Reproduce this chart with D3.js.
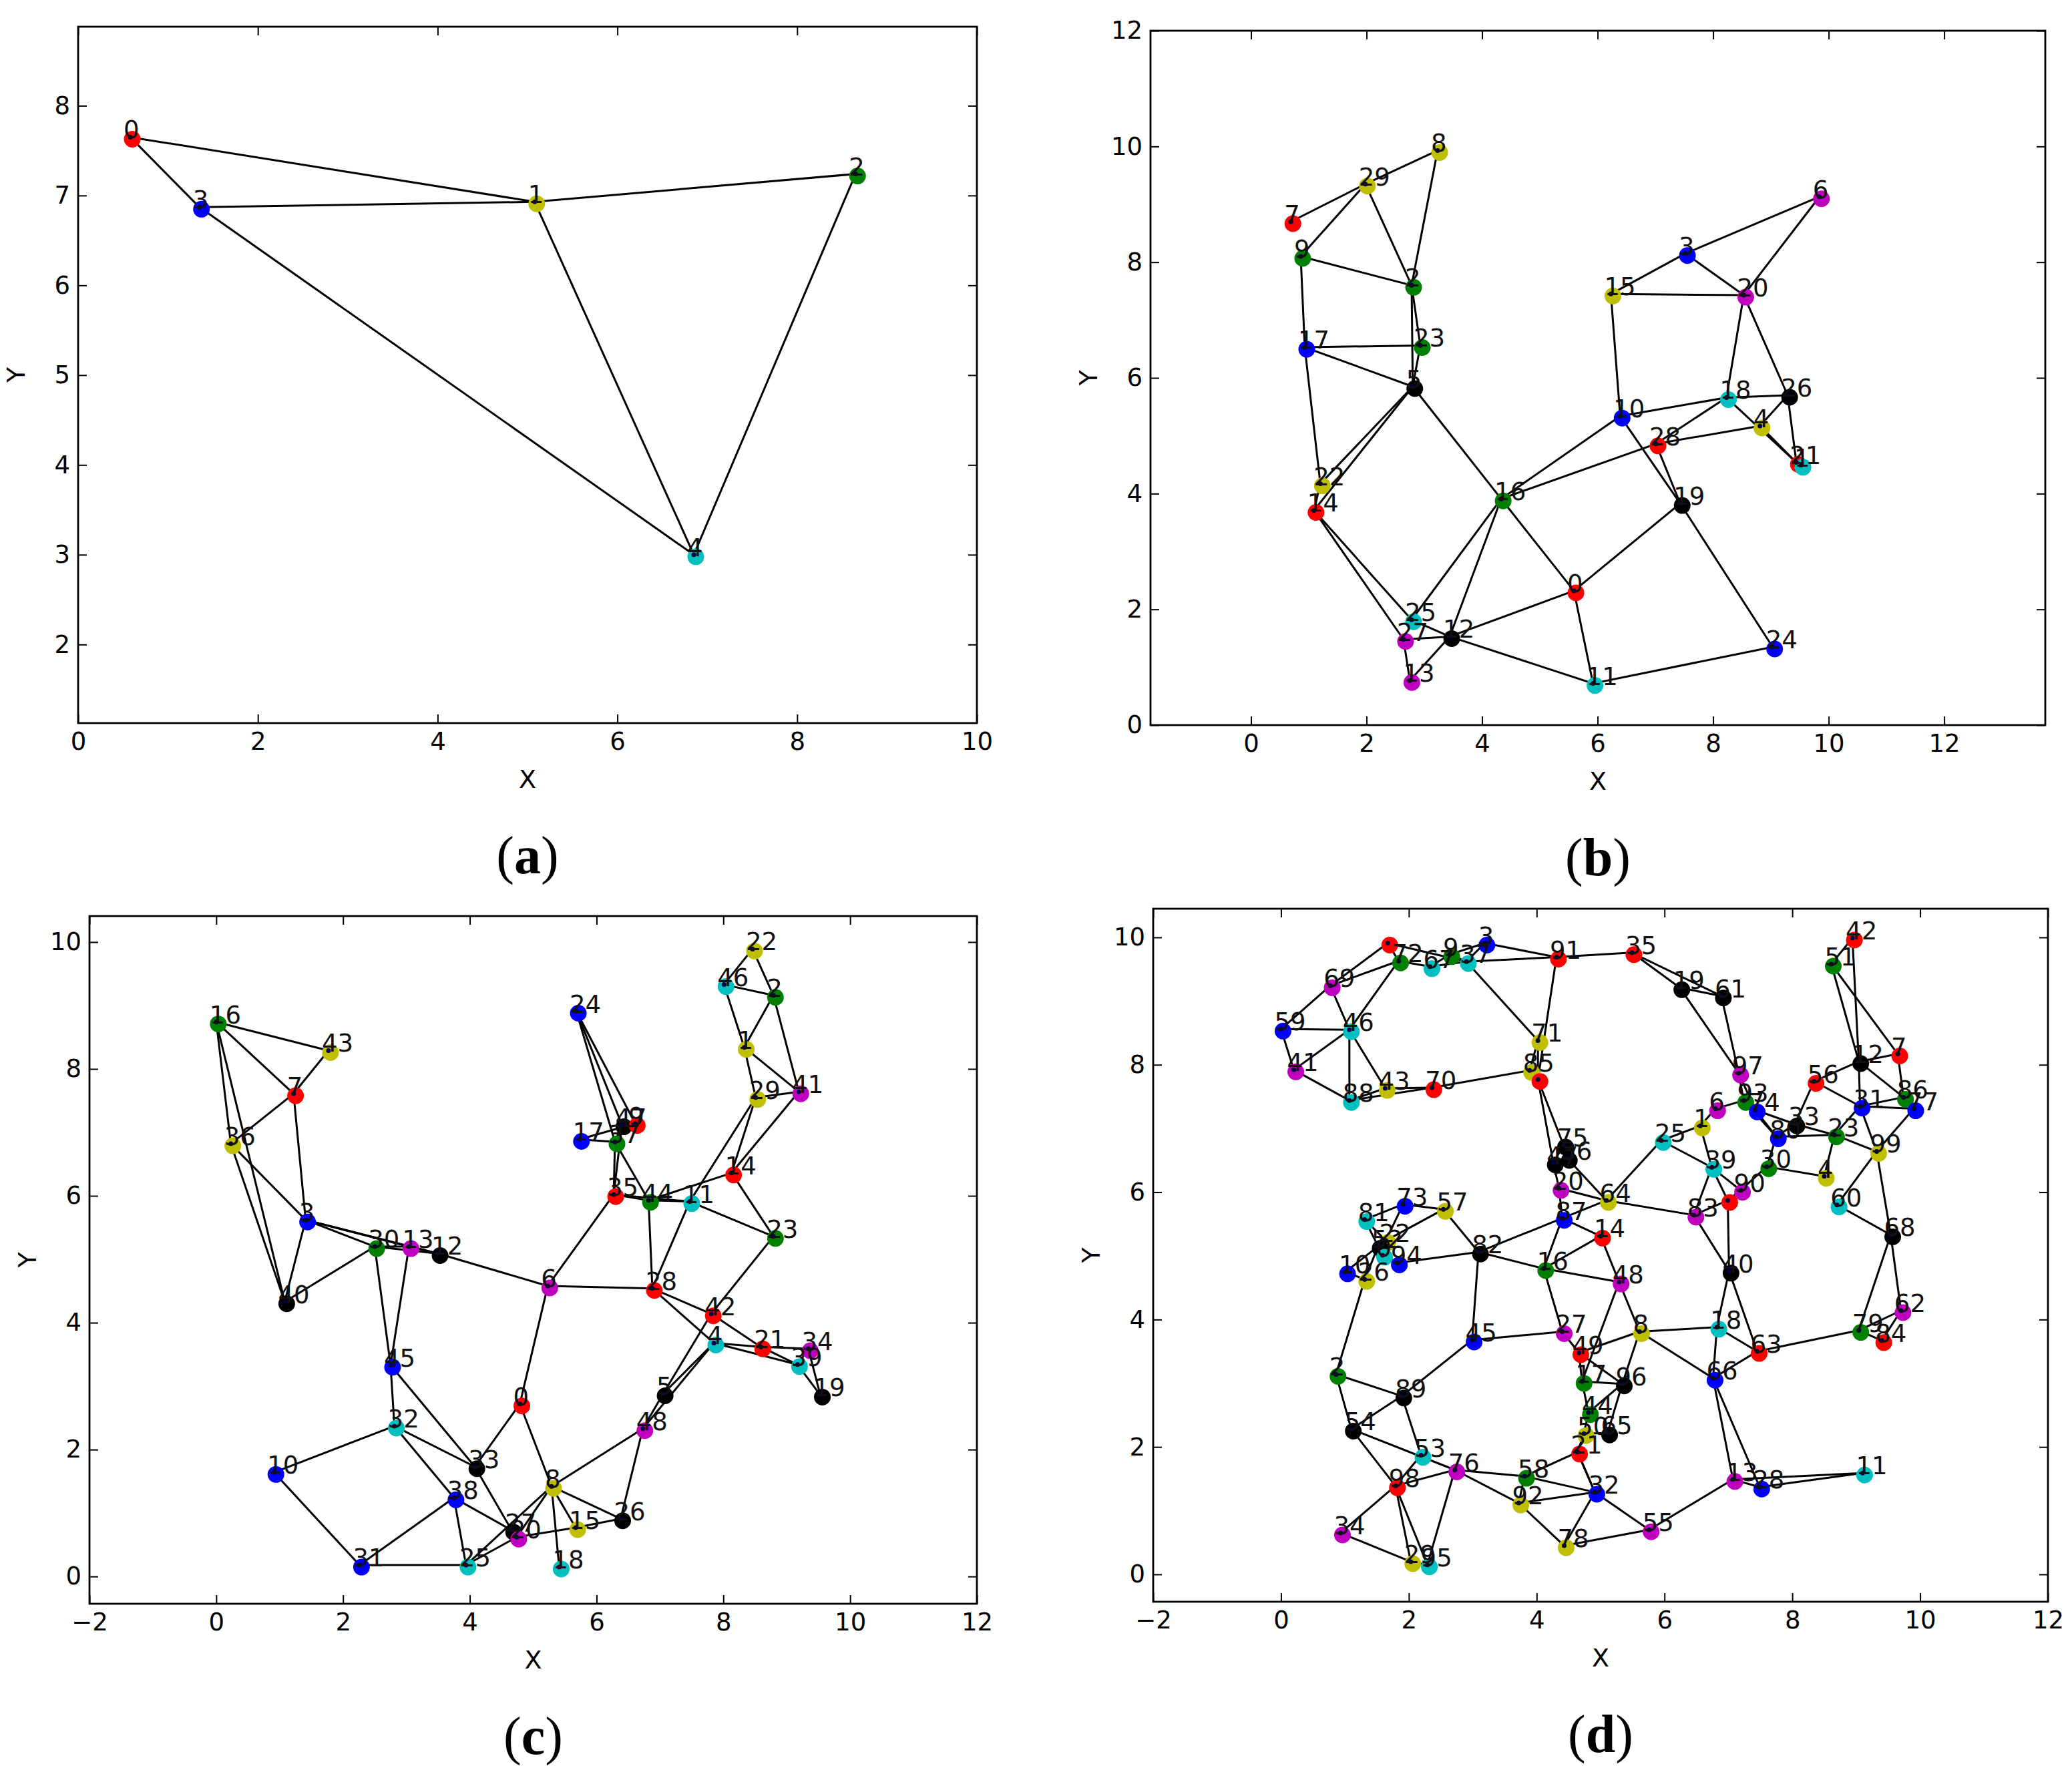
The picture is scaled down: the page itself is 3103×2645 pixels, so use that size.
<!DOCTYPE html>
<html>
<head>
<meta charset="utf-8">
<script src="https://cdn.jsdelivr.net/npm/d3@7"></script>
<style>
body { margin: 0; background: #fff; }
</style>
</head>
<body>
<svg id="fig" width="3103" height="2645"></svg>
<script>
// matplotlib classic colours
let pal = { b: "#0000ff", g: "#008000", r: "#ff0000", c: "#00bfbf", m: "#bf00bf", y: "#bfbf00", k: "#000000" }

// ---- panel (a)
let aKeys = ["0", "1", "2", "3", "4"]
let aX = [0.58, 5.08, 8.65, 1.35, 6.85]
let aY = [7.65, 6.93, 7.24, 6.87, 3.0]
let aCol = ["r", "y", "g", "b", "c"]
let aEdges = [["0","1"],["0","3"],["3","1"],["1","2"],["3","4"],["1","4"],["2","4"]]

// ---- panel (b)
let bKeys = ["7","29","8","9","2","17","23","5","22","14","16","25","27","12","13","0","11","24","19","10","28","18","26","4","21","1","15","20","3","6"]
let bX = [0.69,1.98,3.23,0.86,2.78,0.93,2.93,2.80,1.20,1.09,4.33,2.78,2.64,3.44,2.75,5.59,5.92,9.03,7.43,6.39,7.01,8.23,9.29,8.81,9.44,9.52,6.23,8.53,7.52,9.84]
let bY = [8.70,9.35,9.93,8.10,7.60,6.53,6.56,5.85,4.17,3.71,3.91,1.82,1.48,1.53,0.77,2.32,0.72,1.35,3.83,5.34,4.86,5.66,5.70,5.17,4.54,4.49,7.45,7.43,8.15,9.13]
let bCol = ["r","y","y","g","g","b","g","k","y","r","g","c","m","k","m","r","c","b","k","b","r","c","k","y","r","c","y","m","b","m"]
let bEdges = [["7","29"],["29","8"],["29","9"],["29","2"],["8","2"],["9","2"],["9","17"],["2","5"],["23","5"],["2","23"],["17","23"],["17","5"],["17","22"],
  ["5","22"],["5","14"],["22","14"],["5","16"],["14","25"],["14","27"],["27","12"],["27","13"],["13","12"],["25","12"],["25","16"],["12","16"],
  ["16","0"],["12","0"],["12","11"],["0","11"],["0","19"],["19","24"],["11","24"],["16","10"],["16","28"],["28","4"],["10","19"],["28","19"],
  ["10","18"],["28","18"],["18","26"],["18","21"],["26","4"],["26","21"],["4","21"],["15","10"],["15","20"],["15","3"],["3","20"],["3","6"],
  ["6","20"],["20","18"],["20","26"]]

// ---- panel (c)
let cKeys = ["16","43","7","36","3","40","30","13","12","6","45","32","10","31","33","38","25","27","20","0","8","15","18","26","48","5","28","42","4","21","34","39","19","23","14","11","44","35","37","47","9","24","17","1","2","22","46","29","41"]
let cX = [0.0,1.77,1.22,0.23,1.41,1.08,2.50,3.04,3.50,5.23,2.75,2.81,0.91,2.26,4.08,3.75,3.94,4.66,4.74,4.79,5.29,5.67,5.41,6.38,6.73,7.05,6.88,7.81,7.85,8.59,9.34,9.17,9.53,8.79,8.13,7.47,6.82,6.27,6.29,6.40,6.61,5.68,5.73,8.33,8.79,8.46,8.01,8.51,9.19]
let cY = [8.74,8.29,7.61,6.82,5.62,4.33,5.20,5.20,5.09,4.58,3.33,2.37,1.64,0.18,1.73,1.24,0.18,0.73,0.62,2.72,1.42,0.77,0.15,0.91,2.33,2.88,4.54,4.14,3.68,3.62,3.59,3.34,2.86,5.36,6.36,5.91,5.93,6.02,6.85,7.12,7.14,8.91,6.89,8.34,9.16,9.89,9.33,7.55,7.64]
let cCol = ["g","y","r","y","b","k","g","m","k","m","b","c","b","b","k","b","c","k","m","r","y","y","c","k","m","k","r","r","c","r","m","c","k","g","r","c","g","r","g","k","r","b","b","y","g","y","c","y","m"]
let cEdges = [["16","43"],["16","7"],["16","36"],["16","40"],["43","7"],["7","36"],["7","3"],["36","3"],["36","40"],["3","40"],["3","30"],["3","13"],
  ["40","30"],["30","13"],["30","12"],["13","12"],["3","12"],["12","6"],["30","45"],["13","45"],["45","32"],["45","33"],["32","10"],["32","33"],
  ["32","38"],["10","31"],["31","38"],["31","25"],["38","25"],["38","27"],["33","27"],["33","0"],["0","6"],["0","8"],["6","35"],["6","28"],
  ["25","20"],["25","8"],["8","20"],["8","15"],["8","18"],["8","26"],["8","48"],["20","15"],["15","26"],["26","48"],["48","5"],["48","4"],
  ["5","4"],["5","42"],["28","4"],["28","44"],["28","42"],["42","23"],["42","21"],["4","21"],["4","39"],["21","39"],["21","34"],["34","39"],
  ["34","19"],["39","19"],["23","14"],["23","11"],["14","29"],["14","41"],["14","44"],["11","44"],["28","11"],["11","29"],["11","35"],["44","35"],
  ["35","37"],["37","47"],["35","47"],["17","37"],["17","9"],["24","47"],["24","9"],["24","37"],["47","9"],["44","37"],["29","1"],["29","41"],
  ["1","46"],["1","2"],["1","41"],["46","22"],["22","2"],["46","2"],["2","41"]]

// ---- panel (d)
let dKeys = ["59","69","46","41","88","43","70","r72","72","67","9","37","3","91","35","19","61","42","51","97","7","12","56","86","77","31","93","74","6","1",
  "25","39","33","80","23","99","30","4","60","90","r90","83","64","14","48","40","68","62","79","84","18","8","63","66","49","96","17","44","50","65",
  "21","32","13","28","11","55","78","45","27","2","89","54","53","76","98","58","92","34","29","95","75","47","36","20","87","73","57","81","22","52",
  "0","94","10","26","82","16","71","85","r85"]
let dLabels = dKeys.map(k => k[0] == "r" ? "" : k)
let dX = [0.00,0.77,1.07,0.20,1.07,1.63,2.36,1.67,1.84,2.33,2.64,2.90,3.19,4.31,5.49,6.24,6.89,8.94,8.61,7.16,9.65,9.04,8.34,9.74,9.90,9.06,7.24,7.42,6.80,6.56,
  5.95,6.74,8.04,7.75,8.66,9.32,7.60,8.50,8.70,7.19,6.99,6.46,5.09,5.00,5.29,7.01,9.54,9.70,9.04,9.40,6.82,5.61,7.45,6.76,4.66,5.34,4.71,4.81,4.74,5.11,
  4.64,4.91,7.07,7.49,9.10,5.76,4.43,2.99,4.40,0.86,1.89,1.10,2.19,2.72,1.79,3.81,3.72,0.93,2.03,2.29,4.42,4.26,4.48,4.35,4.40,1.91,2.54,1.31,1.64,1.52,
  1.59,1.82,1.01,1.31,3.09,4.11,4.02,3.89,4.02]
let dY = [8.56,9.24,8.55,7.92,7.44,7.63,7.64,9.91,9.63,9.54,9.73,9.62,9.91,9.69,9.76,9.21,9.08,9.99,9.58,7.87,8.17,8.05,7.74,7.49,7.31,7.35,7.44,7.29,7.31,7.04,
  6.81,6.39,7.07,6.87,6.90,6.64,6.40,6.25,5.80,6.03,5.87,5.64,5.87,5.31,4.59,4.76,5.33,4.14,3.83,3.67,3.88,3.81,3.50,3.08,3.48,2.99,3.03,2.54,2.21,2.22,
  1.92,1.29,1.49,1.37,1.59,0.70,0.45,3.68,3.81,3.14,2.80,2.28,1.87,1.64,1.39,1.54,1.12,0.65,0.20,0.15,6.74,6.46,6.53,6.06,5.59,5.81,5.73,5.57,5.24,5.15,
  5.01,4.89,4.75,4.63,5.06,4.80,8.38,7.91,7.77]
let dCol = ["b","m","c","m","c","y","r","r","g","c","g","c","b","r","r","k","k","r","g","m","r","k","r","g","b","b","g","b","m","y",
  "c","c","k","b","g","y","g","y","c","m","r","m","y","r","m","k","k","m","g","r","c","y","r","b","r","k","g","g","y","k",
  "r","b","m","b","c","m","y","b","m","g","k","k","c","m","r","g","y","m","y","c","k","k","k","m","b","b","y","c","y","k",
  "c","b","b","y","k","g","y","y","r"]
let dEdges = `59-69 59-46 59-41 69-46 69-r72 69-72 r72-72 r72-37 72-46 72-67 67-9 67-37 9-37 9-3 37-3 3-91 37-91 37-71 91-r85 91-35 35-19 35-61
19-61 19-97 61-97 46-41 46-88 46-43 41-88 88-43 88-70 43-70 70-85 71-85 71-r85 85-r85 r85-75 r85-47 75-47 75-36 47-36 47-20 36-64 20-64 20-87
87-64 87-14 87-82 87-16 64-25 64-83 25-1 25-39 1-6 1-39 6-93 93-74 93-97 97-74 74-33 74-80 93-80 80-33 80-30 33-23 80-23 33-56 56-12 56-31
12-42 12-51 42-51 51-7 12-7 12-31 12-86 7-86 31-86 31-77 86-77 31-99 31-23 23-99 23-4 30-4 30-90 39-90 39-r90 39-83 83-r90 90-r90 r90-40 83-40
40-18 40-63 99-60 77-99 99-68 60-68 68-79 68-62 79-62 79-84 84-62 79-63 18-8 18-63 18-66 63-66 66-8 66-13 66-28 13-28 13-11 28-11 13-55 55-32
55-78 32-78 32-21 32-58 32-92 8-48 8-49 8-96 48-14 48-17 14-16 16-82 16-27 16-48 82-45 82-57 82-94 45-27 45-89 27-49 49-17 49-96 17-96 17-44
44-96 44-50 96-65 50-65 50-21 21-58 21-32 57-73 57-22 73-81 73-22 81-22 81-52 22-52 52-0 0-94 52-10 10-26 52-26 26-2 2-89 2-54 89-54 89-53
54-98 54-76 53-98 98-76 76-58 76-92 76-95 98-29 98-95 98-34 34-29 58-92 92-78 29-95`.split(/\s+/).map(s => s.split("-"))

// tick values
let aXT = d3.range(0, 11, 2), aYT = d3.range(2, 9, 1)
let bXT = d3.range(0, 13, 2), bYT = d3.range(0, 13, 2)
let cXT = d3.range(-2, 13, 2), cYT = d3.range(0, 11, 2)

let svg = d3.select("#fig")
let sans = "DejaVu Sans, sans-serif"

function panel(box, xd, yd, xt, yt, keys, xs, ys, cols, edges, name, labels) {
    let g = svg.append("g")
    let x = d3.scaleLinear().domain(xd).range([box.x0, box.x1])
    let y = d3.scaleLinear().domain(yd).range([box.y1, box.y0])
    let idx = {}
    keys.forEach((k, i) => idx[k] = i)
    labels = labels || keys

    g.selectAll(".e").data(edges).enter().append("line")
        .attr("x1", e => x(xs[idx[e[0]]])).attr("y1", e => y(ys[idx[e[0]]]))
        .attr("x2", e => x(xs[idx[e[1]]])).attr("y2", e => y(ys[idx[e[1]]]))
        .attr("stroke", "#000").attr("stroke-width", 3)

    g.selectAll(".n").data(keys).enter().append("circle")
        .attr("cx", (k, i) => x(xs[i]) + 3).attr("cy", (k, i) => y(ys[i]) + 3)
        .attr("r", 12.5).attr("fill", (k, i) => pal[cols[i]])
    g.selectAll(".v").data(keys).enter().append("circle")
        .attr("cx", (k, i) => x(xs[i])).attr("cy", (k, i) => y(ys[i]))
        .attr("r", 3.5).attr("fill", "#000044")
    g.selectAll(".t").data(keys).enter().append("text")
        .attr("x", (k, i) => x(xs[i]) - 10).attr("y", (k, i) => y(ys[i]) + 2)
        .style("font-family", sans).style("font-size", "37px").attr("fill", "#111")
        .text((k, i) => labels[i])

    // axes, ticks pointing inward on all four sides
    let tl = 13
    g.append("g").attr("transform", `translate(0,${box.y1})`)
        .call(d3.axisBottom(x).tickValues(xt).tickSize(-tl).tickPadding(14).tickFormat(d => d < 0 ? "\u2212" + (-d) : d))
    g.append("g").attr("transform", `translate(0,${box.y0})`)
        .call(d3.axisTop(x).tickValues(xt).tickSize(-tl).tickFormat(""))
    g.append("g").attr("transform", `translate(${box.x0},0)`)
        .call(d3.axisLeft(y).tickValues(yt).tickSize(-tl).tickPadding(12))
    g.append("g").attr("transform", `translate(${box.x1},0)`)
        .call(d3.axisRight(y).tickValues(yt).tickSize(-tl).tickFormat(""))
    g.selectAll(".domain").remove()
    g.selectAll(".tick line").attr("stroke", "#000").attr("stroke-width", 2)
    g.selectAll(".tick text").style("font-size", "37px").style("font-family", sans).attr("fill", "#000")

    g.append("rect").attr("x", box.x0).attr("y", box.y0)
        .attr("width", box.x1 - box.x0).attr("height", box.y1 - box.y0)
        .attr("fill", "none").attr("stroke", "#000").attr("stroke-width", 2.8)

    let cx = (box.x0 + box.x1) / 2
    g.append("text").attr("x", cx).attr("y", box.y1 + 97).attr("text-anchor", "middle")
        .style("font-family", sans).style("font-size", "38px").text("X")
    g.append("text").attr("transform", `translate(${box.x0 - 80},${(box.y0 + box.y1) / 2}) rotate(-90)`)
        .attr("text-anchor", "middle").style("font-family", sans).style("font-size", "38px").text("Y")
    let st = g.append("text").attr("x", cx).attr("y", box.y1 + 225).attr("text-anchor", "middle")
        .style("font-family", "Liberation Serif, serif").style("font-size", "80px")
    st.append("tspan").text("(")
    st.append("tspan").attr("font-weight", "bold").text(name)
    st.append("tspan").text(")")
}

panel({x0: 117, x1: 1463, y0: 40, y1: 1083}, [0, 10], [1.125, 8.88], aXT, aYT, aKeys, aX, aY, aCol, aEdges, "a")
panel({x0: 1723, x1: 3063, y0: 46, y1: 1086}, [-1.74, 13.75], [0, 12], bXT, bYT, bKeys, bX, bY, bCol, bEdges, "b")
panel({x0: 134, x1: 1463, y0: 1372, y1: 2402}, [-2, 12], [-0.43, 10.41], cXT, cYT, cKeys, cX, cY, cCol, cEdges, "c")
panel({x0: 1727, x1: 3067, y0: 1361, y1: 2399}, [-2, 12], [-0.43, 10.45], cXT, cYT, dKeys, dX, dY, dCol, dEdges, "d", dLabels)
</script>
</body>
</html>
